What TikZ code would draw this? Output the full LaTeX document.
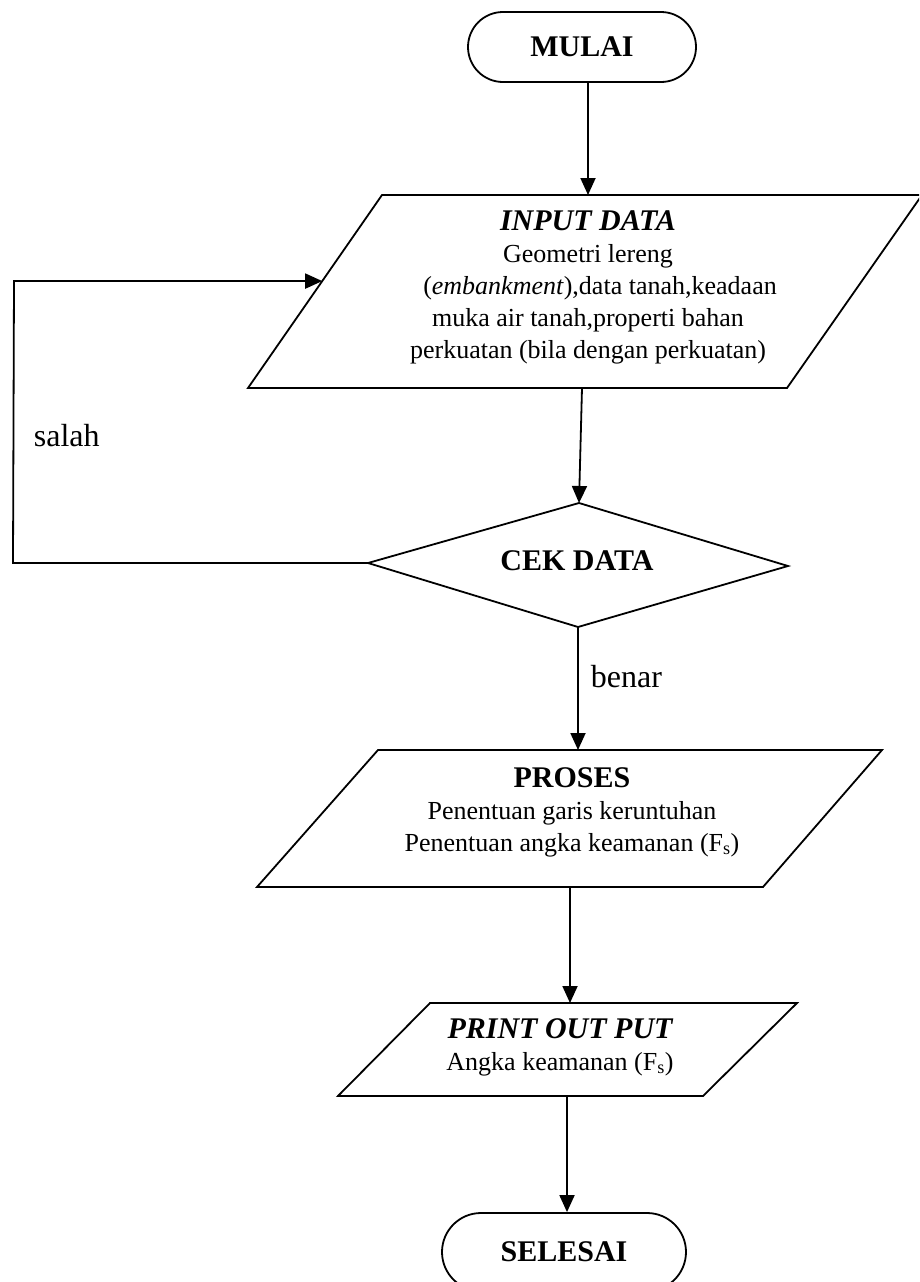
\documentclass[tikz,border=0pt]{standalone}
\usepackage{fontspec}
\setmainfont{Liberation Serif}
\usetikzlibrary{arrows.meta,calc}
\begin{document}
\begin{tikzpicture}[x=1pt,y=-1pt, line width=1.8pt, line join=miter,
  flow/.style={-{Triangle[length=17pt,width=15pt]}},
  term/.style={draw, minimum width=228pt, minimum height=70pt, rounded corners=35pt,
     font=\fontsize{30}{32}\selectfont\bfseries, inner sep=0pt},
  ttl/.style={font=\fontsize{30}{32}\selectfont\bfseries, inner sep=0pt},
  body/.style={font=\fontsize{26}{32}\selectfont, align=center, inner sep=0pt},
  lbl/.style={font=\fontsize{32}{36}\selectfont, anchor=west, inner sep=0pt}]
\useasboundingbox (0,0) rectangle (919,1282);
\clip (0,0) rectangle (919,1282);

% start
\node[term] (start) at (582,47) {MULAI};

% input parallelogram
\coordinate (inTL) at (382,195);
\coordinate (inTR) at (922,195);
\coordinate (inBR) at (787,388);
\coordinate (inBL) at (248,388);
\draw (inTL) -- (inTR) -- (inBR) -- (inBL) -- cycle;
\coordinate (inTop) at (588,195);
\coordinate (inBot) at (582,388);
\coordinate (inHit) at ($(inBL)!0.554!(inTL)$);
\node[body] (input) at (588,287) {{\fontsize{30}{32}\selectfont\bfseries\itshape INPUT DATA}\\
  Geometri lereng\\
  \hspace*{24pt}(\textit{embankment}),data tanah,keadaan\\
  muka air tanah,properti bahan\\
  perkuatan (bila dengan perkuatan)};

% decision diamond
\coordinate (dT) at (579,503);
\coordinate (dR) at (788,566);
\coordinate (dB) at (578,627);
\coordinate (dL) at (368,563);
\draw (dT) -- (dR) -- (dB) -- (dL) -- cycle;
\node[ttl] (cek) at (577,561) {CEK DATA};

% process parallelogram
\coordinate (pTL) at (378,750);
\coordinate (pTR) at (882,750);
\coordinate (pBR) at (763,887);
\coordinate (pBL) at (257,887);
\draw (pTL) -- (pTR) -- (pBR) -- (pBL) -- cycle;
\coordinate (pTop) at (578,750);
\coordinate (pBot) at (570,887);
\node[body] (proses) at (572,812) {{\fontsize{30}{32}\selectfont\bfseries PROSES}\\
  Penentuan garis keruntuhan\\
  Penentuan angka keamanan (F\textsubscript{s})};

% output parallelogram
\coordinate (oTL) at (430,1003);
\coordinate (oTR) at (797,1003);
\coordinate (oBR) at (703,1096);
\coordinate (oBL) at (338,1096);
\draw (oTL) -- (oTR) -- (oBR) -- (oBL) -- cycle;
\coordinate (oTop) at (570,1003);
\coordinate (oBot) at (567,1096);
\node[body] (output) at (560,1047) {{\fontsize{30}{32}\selectfont\bfseries\itshape PRINT OUT PUT}\\
  Angka keamanan (F\textsubscript{s})};

% end
\node[term, minimum width=244pt, minimum height=78pt, rounded corners=39pt] (stop) at (564,1252) {SELESAI};

% connectors
\draw[flow] (start.south -| inTop) -- (inTop);
\draw[flow] (inBot) -- (dT);
\coordinate (c1) at (13,563);
\coordinate (c2) at (14,281);
\draw[flow] (dL) -- (c1) -- (c2) -- (inHit);
\draw[flow] (dB) -- (pTop);
\draw[flow] (pBot) -- (oTop);
\draw[flow] (oBot) -- (oBot |- stop.north);

% labels
\node[lbl] (salah) at (33,436) {salah};
\node[lbl] (benar) at (590,677) {benar};
\end{tikzpicture}
\end{document}
